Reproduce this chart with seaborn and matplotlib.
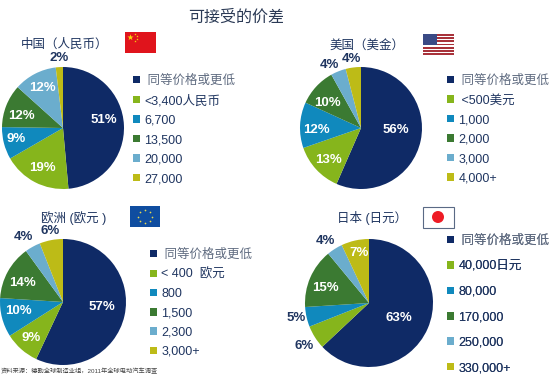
import matplotlib
matplotlib.use('Agg')
import matplotlib.pyplot as plt
from matplotlib.patches import Patch, Rectangle, Circle
import seaborn as sns

# -----------------------------
# Data
# -----------------------------
china_values = [51, 19, 9, 12, 12, 2]
us_values = [56, 13, 12, 10, 4, 4]
europe_values = [57, 9, 10, 14, 4, 6]
japan_values = [63, 6, 5, 15, 4, 7]

china_labels = [' 同等价格或更低', '<3,400人民币', '6,700', '13,500', '20,000', '27,000']
us_labels = [' 同等价格或更低', ' <500美元', '1,000', '2,000', '3,000', '4,000+']
europe_labels = [' 同等价格或更低', '< 400  欧元', '800', '1,500', '2,300', '3,000+']
japan_labels = [' 同等价格或更低', '40,000日元', '80,000', '170,000', '250,000', '330,000+']

main_title = '可接受的价差'
source_note = '资料来源：德勤全球制造业组，2011年全球电动汽车调查'
china_title = '中国（人民币）'
us_title = '美国（美金）'
europe_title = '欧洲 (欧元 )'
japan_title = '日本 (日元）'

# -----------------------------
# Style
# -----------------------------
sns.set_theme(style='white')
plt.rcParams['font.family'] = ['Liberation Sans', 'Noto Sans CJK SC']
palette = sns.color_palette(['#0f2a66', '#86b51c', '#1089bd', '#3b7a32', '#6badcd', '#bdbb17'])
NAVY = '#1f3560'
W, H = 550, 376

fig = plt.figure(figsize=(W / 100, H / 100), dpi=100, facecolor='white')

# overlay in pixel coordinates for text, flags and legends
overlay = fig.add_axes([0, 0, 1, 1], zorder=5)
overlay.set_xlim(0, W)
overlay.set_ylim(H, 0)
overlay.axis('off')


def draw_panel(values, labels, title, centre, radius, title_pos, pct_pos, legend_pos, spacing):
    cx, cy = centre
    ax = fig.add_axes([(cx - radius) / W, 1 - (cy + radius) / H, 2 * radius / W, 2 * radius / H])
    wedges, _ = ax.pie(values, colors=palette, startangle=90, counterclock=False, radius=1,
                       wedgeprops={'linewidth': 0})
    ax.set_xlim(-1, 1)
    ax.set_ylim(-1, 1)

    overlay.text(title_pos[0], title_pos[1], title, ha='center', va='center', fontsize=9, color=NAVY)

    # percentages, white inside the pie and navy outside
    for v, (x, y, col) in zip(values, pct_pos):
        overlay.text(x, y, f'{v}%', ha='center', va='center', fontsize=9.5, fontweight='bold', color=col)

    handles = [Patch(facecolor=c, edgecolor='none') for c in palette]
    leg = overlay.legend(handles, labels, loc='upper left', bbox_to_anchor=legend_pos,
                         bbox_transform=overlay.transData, frameon=False, fontsize=9,
                         borderpad=0, borderaxespad=0, handlelength=0.55, handleheight=0.55,
                         handletextpad=0.35, labelspacing=spacing)
    for i, t in enumerate(leg.get_texts()):
        t.set_color('#5f6b80' if i == 0 else NAVY)
    overlay.add_artist(leg)


W_C, N_C = 'white', NAVY

draw_panel(china_values, china_labels, china_title, (63, 128), 61, (65, 45),
           [(104, 120, W_C), (42, 168, W_C), (16, 139, W_C), (21, 116, W_C), (42, 88, W_C), (59, 58, N_C)],
           (133, 75), 0.6)
draw_panel(us_values, us_labels, us_title, (361, 128), 61, (367, 46),
           [(396, 130, W_C), (329, 160, W_C), (316, 130, W_C), (327, 103, W_C), (329, 65, N_C), (351, 59, N_C)],
           (447, 75), 0.6)
draw_panel(europe_values, europe_labels, europe_title, (63, 302), 63, (74, 218),
           [(102, 307, W_C), (31, 338, W_C), (18, 311, W_C), (22, 283, W_C), (23, 237, N_C), (50, 231, N_C)],
           (150, 249), 0.58)
draw_panel(japan_values, japan_labels, japan_title, (369, 303), 64, (372, 218),
           [(399, 318, W_C), (304, 346, N_C), (296, 318, N_C), (325, 288, W_C), (325, 241, N_C), (359, 253, W_C)],
           (447, 235), 1.07)

overlay.text(236, 17, main_title, ha='center', va='center', fontsize=11.5, color='#2b3a55')
overlay.text(1, 371, source_note, ha='left', va='center', fontsize=4.5, color='#444444')

# -----------------------------
# Flags
# -----------------------------
# China
overlay.add_patch(Rectangle((125, 32), 31, 21, color='#e0141c', lw=0))
overlay.scatter([130], [37], marker='*', s=22, color='#f5d90a', lw=0, zorder=3)
overlay.scatter([135, 137, 137, 135], [33.5, 36, 39, 41], marker='*', s=3, color='#f5d90a', lw=0, zorder=3)

# USA
overlay.add_patch(Rectangle((423, 34), 31, 21, color='white', lw=0))
for i in range(7):
    overlay.add_patch(Rectangle((423, 34 + i * 3.2), 31, 1.7, color='#a8323a', lw=0))
overlay.add_patch(Rectangle((423, 34), 14, 11, color='#3a4a85', lw=0))

# EU
overlay.add_patch(Rectangle((130, 206), 30, 21, color='#0f4da0', lw=0))
overlay.scatter([145, 150, 152, 150, 145, 140, 138, 140], [210, 212, 216.5, 221, 223, 221, 216.5, 212],
                marker='o', s=1.5, color='#e8d850', lw=0, zorder=3)

# Japan
overlay.add_patch(Rectangle((422.5, 206.5), 31, 21, facecolor='white', edgecolor='#5a6a85', lw=0.8))
overlay.add_patch(Circle((438, 217), 6, color='#ee1c25', lw=0, zorder=3))

plt.savefig('out.png', dpi=100)
